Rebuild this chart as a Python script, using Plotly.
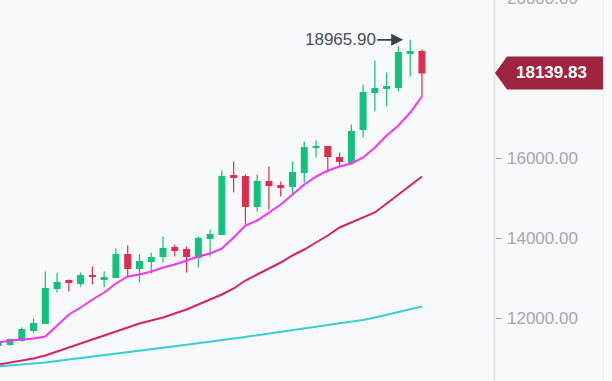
import plotly.graph_objects as go

# ---- data ----
idx = list(range(37))
opens = [11325, 11350, 11450, 11700, 11875, 12750, 12950, 12875, 13075, 12975,
         13025, 13600, 13250, 13425, 13550, 13775, 13725, 13525, 14000, 14100,
         15575, 15550, 14800, 15425, 15325, 15300, 15650, 16275, 16300, 16025,
         15900, 16725, 17650, 17750, 17775, 18625, 18675]
highs = [11425, 11500, 11775, 12000, 13175, 13150, 12975, 13150, 13300, 13175,
         13750, 13825, 13600, 13650, 14050, 13850, 13800, 14050, 14225, 15700,
         15925, 15600, 15600, 15800, 15425, 15925, 16425, 16450, 16300, 16150,
         16850, 17850, 18450, 18150, 18800, 18965.90, 18725]
lows = [11300, 11325, 11425, 11650, 11875, 12650, 12675, 12800, 12850, 12775,
        13025, 13050, 12900, 13125, 13400, 13550, 13150, 13275, 13550, 14100,
        15150, 14350, 14675, 14725, 15050, 15100, 15400, 16025, 15650, 15775,
        15850, 16525, 17175, 17300, 17675, 18050, 17550]
closes = [11400, 11475, 11725, 11875, 12750, 12900, 12900, 13075, 13050, 13025,
          13600, 13250, 13425, 13525, 13750, 13700, 13550, 14000, 14100, 15550,
          15525, 14800, 15425, 15325, 15275, 15650, 16275, 16300, 16050, 15925,
          16675, 17650, 17750, 17800, 18650, 18675, 18139.83]

ma_fast = [11400, 11450, 11475, 11500, 11550, 11825, 12100, 12275, 12475, 12650,
           12875, 13050, 13100, 13175, 13275, 13350, 13450, 13550, 13625, 13750,
           14025, 14325, 14450, 14650, 14850, 15100, 15350, 15550, 15700, 15800,
           15875, 16025, 16275, 16575, 16825, 17150, 17550]
ma_mid = [10850, 10900, 10950, 11000, 11075, 11175, 11275, 11375, 11475, 11575,
          11675, 11775, 11875, 11950, 12025, 12125, 12225, 12350, 12475, 12600,
          12750, 12950, 13100, 13250, 13400, 13575, 13725, 13900, 14075, 14275,
          14400, 14525, 14650, 14875, 15100, 15325, 15550]
ma_slow = [10800, 10825, 10840, 10860, 10900, 10940, 10975, 11010, 11050, 11085,
           11120, 11160, 11195, 11235, 11270, 11305, 11345, 11380, 11420, 11455,
           11500, 11540, 11585, 11625, 11670, 11710, 11750, 11795, 11840, 11880,
           11920, 11960, 12025, 12090, 12160, 12225, 12300]

# 18000.00 sits under the last-price tag in the reference, so it is not drawn;
# 20000.00 sits half off the top edge
tick_vals = [12000, 14000, 16000, 20000]
last_price = closes[-1]
peak_price = max(highs)
peak_idx = highs.index(peak_price)

# ---- layout constants ----
W, H = 612, 381
PLOT_W = 495
Y_LO, Y_HI = 10437.5, 19962.5
X_LO, X_HI = 0.150, 42.206
BG = "#f8f9fb"
TICK_COLOR = "#a3a7b0"
FONT = "Liberation Sans, Arial, sans-serif"

fig = go.Figure()

fig.add_trace(go.Scatter(x=idx, y=ma_slow, mode="lines",
                         line=dict(color="#33d0d6", width=2), hoverinfo="skip"))
fig.add_trace(go.Scatter(x=idx, y=ma_mid, mode="lines",
                         line=dict(color="#d3246a", width=2), hoverinfo="skip"))
fig.add_trace(go.Scatter(x=idx, y=ma_fast, mode="lines",
                         line=dict(color="#fa32fa", width=2), hoverinfo="skip"))

fig.add_trace(go.Candlestick(
    x=idx, open=opens, high=highs, low=lows, close=closes,
    increasing=dict(line=dict(color="#12c27c", width=1.2), fillcolor="#12c27c"),
    decreasing=dict(line=dict(color="#de2d4f", width=1.2), fillcolor="#de2d4f"),
    whiskerwidth=0,
))

def px2paper(px):
    return px / PLOT_W

def val2paper(v):
    return (v - Y_LO) / (Y_HI - Y_LO)

half = 16.5 * (Y_HI - Y_LO) / H
x0, x1, x2 = px2paper(495), px2paper(507), px2paper(603)
tag_path = (f"M {x0},{last_price} L {x1},{last_price + half} L {x2},{last_price + half} "
            f"L {x2},{last_price - half} L {x1},{last_price - half} Z")

shapes = [
    dict(type="rect", xref="paper", yref="paper", x0=px2paper(603), x1=px2paper(612),
         y0=0, y1=1, fillcolor="#fbfbfc", line=dict(width=0), layer="below"),
    dict(type="line", xref="paper", yref="paper", x0=px2paper(603), x1=px2paper(603),
         y0=0, y1=1, line=dict(color="#eceef2", width=1), layer="below"),
    dict(type="line", xref="paper", yref="paper", x0=px2paper(494.5), x1=px2paper(494.5),
         y0=0, y1=1, line=dict(color="#e3e5ea", width=2), layer="above"),
]

annotations = []
for v in tick_vals:
    yp = val2paper(v)
    shapes.append(dict(type="line", xref="paper", yref="paper",
                       x0=px2paper(496), x1=px2paper(502), y0=yp, y1=yp,
                       line=dict(color=TICK_COLOR, width=1)))
    annotations.append(dict(x=px2paper(505), y=yp, xref="paper", yref="paper",
                            text=f"{v:.2f}", showarrow=False,
                            xanchor="left", yanchor="middle",
                            font=dict(family=FONT, size=17, color=TICK_COLOR)))

shapes.append(dict(type="path", xref="paper", yref="y", path=tag_path,
                   fillcolor="#9e2440", line=dict(width=0), layer="above"))

annotations += [
    dict(x=peak_idx, y=peak_price, xref="x", yref="y",
         text=f"{peak_price:.2f}", showarrow=True, ax=-70, ay=0,
         arrowhead=2, arrowsize=1.5, arrowwidth=1.6, arrowcolor="#3b3f48",
         standoff=7, font=dict(family=FONT, size=17, color="#4a4e58")),
    dict(x=px2paper(551), y=last_price, xref="paper", yref="y",
         text=f"<b>{last_price:.2f}</b>", showarrow=False,
         font=dict(family=FONT, size=17, color="white"),
         xanchor="center", yanchor="middle"),
]

fig.update_layout(
    width=W, height=H,
    margin=dict(l=0, r=W - PLOT_W, t=0, b=0),
    paper_bgcolor=BG, plot_bgcolor=BG,
    showlegend=False,
    shapes=shapes,
    annotations=annotations,
    xaxis=dict(range=[X_LO, X_HI], visible=False, rangeslider=dict(visible=False),
               showgrid=False, zeroline=False),
    yaxis=dict(range=[Y_LO, Y_HI], side="right", showgrid=False, zeroline=False,
               showticklabels=False, ticks="", showline=False),
)

fig.write_html("out.html")
